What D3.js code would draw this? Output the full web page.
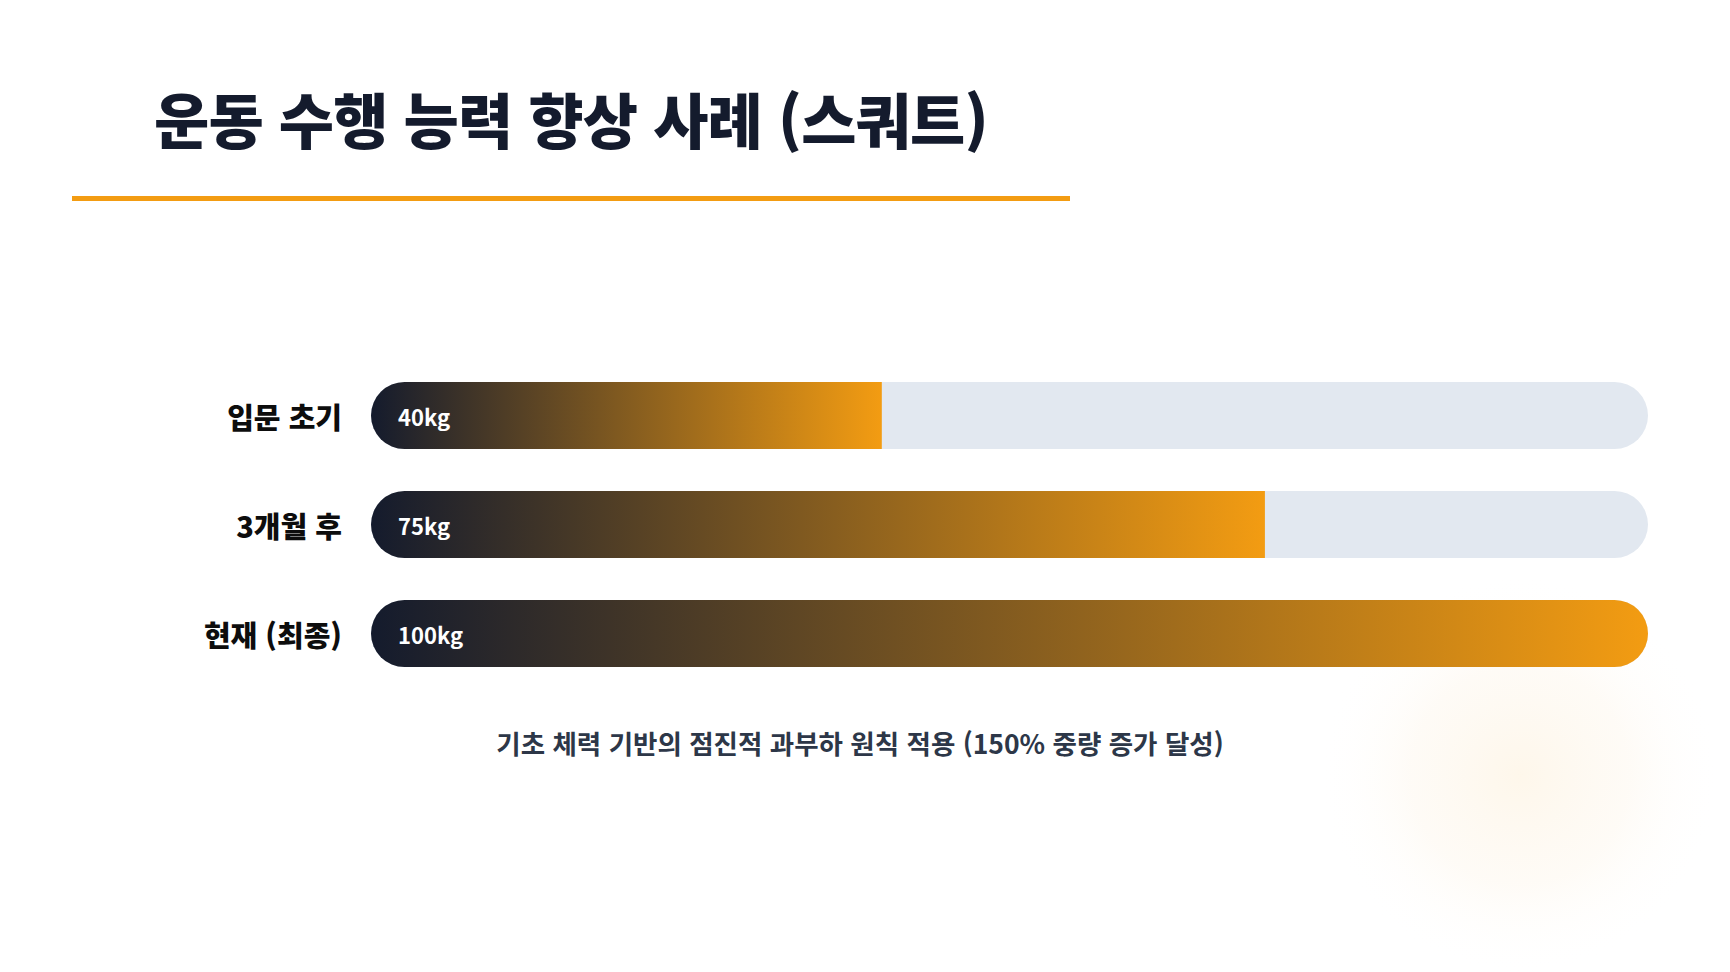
<!DOCTYPE html>
<html lang="ko">
<head>
<meta charset="utf-8">
<script src="https://cdn.jsdelivr.net/npm/d3@7"></script>
<style>
  html, body { margin: 0; padding: 0; background: #ffffff; }
  svg { display: block; }
  text { font-family: "Noto Sans CJK KR", "Noto Sans", sans-serif; }
</style>
</head>
<body>
<svg id="chart" width="1730" height="972"></svg>
<script>
const title = "운동 수행 능력 향상 사례 (스쿼트)";
const categories = ["입문 초기", "3개월 후", "현재 (최종)"];
const weightLabels = ["40kg", "75kg", "100kg"];
const progress = [40, 70, 100]; // bar fill in percent of the track
const caption = "기초 체력 기반의 점진적 과부하 원칙 적용 (150% 중량 증가 달성)";

const W = 1730, H = 972;
const svg = d3.select("#chart");
const defs = svg.append("defs");

// soft background glow (bottom right)
const glow = defs.append("radialGradient").attr("id", "glow");
glow.append("stop").attr("offset", "0%").attr("stop-color", "#fdf0da").attr("stop-opacity", 0.55);
glow.append("stop").attr("offset", "55%").attr("stop-color", "#fdf4e6").attr("stop-opacity", 0.35);
glow.append("stop").attr("offset", "100%").attr("stop-color", "#ffffff").attr("stop-opacity", 0);
svg.append("circle").attr("cx", 1520).attr("cy", 775).attr("r", 200).attr("fill", "url(#glow)");

// title
svg.append("text")
  .attr("x", 154).attr("y", 144)
  .attr("font-size", 60).attr("font-weight", 800)
  .attr("fill", "#141b2d")
  .attr("letter-spacing", "-0.8")
  .text(title);

svg.append("rect").attr("x", 72).attr("y", 196).attr("width", 998).attr("height", 5).attr("fill", "#f39c12");

// scales
const x = d3.scaleLinear().domain([0, 100]).range([371, 1648]);
const y = d3.scaleBand().domain(categories).range([382, 667]).paddingInner(0.385).paddingOuter(0);
const bh = y.bandwidth();

const rows = svg.append("g").selectAll("g").data(categories).join("g")
  .attr("transform", d => `translate(0,${y(d)})`);

// track
rows.append("rect")
  .attr("x", x(0)).attr("y", 0)
  .attr("width", x(100) - x(0)).attr("height", bh)
  .attr("rx", bh / 2).attr("fill", "#e2e8f0");

// clip + gradient per row
categories.forEach((c, i) => {
  defs.append("clipPath").attr("id", "clip" + i)
    .append("rect").attr("x", x(0)).attr("y", 0)
    .attr("width", x(100) - x(0)).attr("height", bh).attr("rx", bh / 2);
  const g = defs.append("linearGradient").attr("id", "grad" + i)
    .attr("gradientUnits", "userSpaceOnUse")
    .attr("x1", x(0)).attr("x2", x(progress[i])).attr("y1", 0).attr("y2", 0);
  g.append("stop").attr("offset", "0%").attr("stop-color", "#141b2d");
  g.append("stop").attr("offset", "100%").attr("stop-color", "#f39c12");
});

rows.append("rect")
  .attr("clip-path", (d, i) => `url(#clip${i})`)
  .attr("x", x(0)).attr("y", 0)
  .attr("width", (d, i) => x(progress[i]) - x(0)).attr("height", bh)
  .attr("fill", (d, i) => `url(#grad${i})`);

// value labels inside
rows.append("text")
  .attr("x", x(0) + 27).attr("y", bh / 2 + 3)
  .attr("dy", "0.35em")
  .attr("font-size", 22).attr("font-weight", 700)
  .attr("fill", "#ffffff")
  .text((d, i) => weightLabels[i]);

// category labels
rows.append("text")
  .attr("x", 342).attr("y", bh / 2 + 3)
  .attr("dy", "0.35em")
  .attr("text-anchor", "end")
  .attr("font-size", 29).attr("font-weight", 800)
  .attr("fill", "#0d0d0d")
  .text(d => d);

// caption
svg.append("text")
  .attr("x", 860).attr("y", 745)
  .attr("dy", "0.35em")
  .attr("text-anchor", "middle")
  .attr("font-size", 26.5).attr("font-weight", 700)
  .attr("fill", "#2d3748")
  .text(caption);
</script>
</body>
</html>
